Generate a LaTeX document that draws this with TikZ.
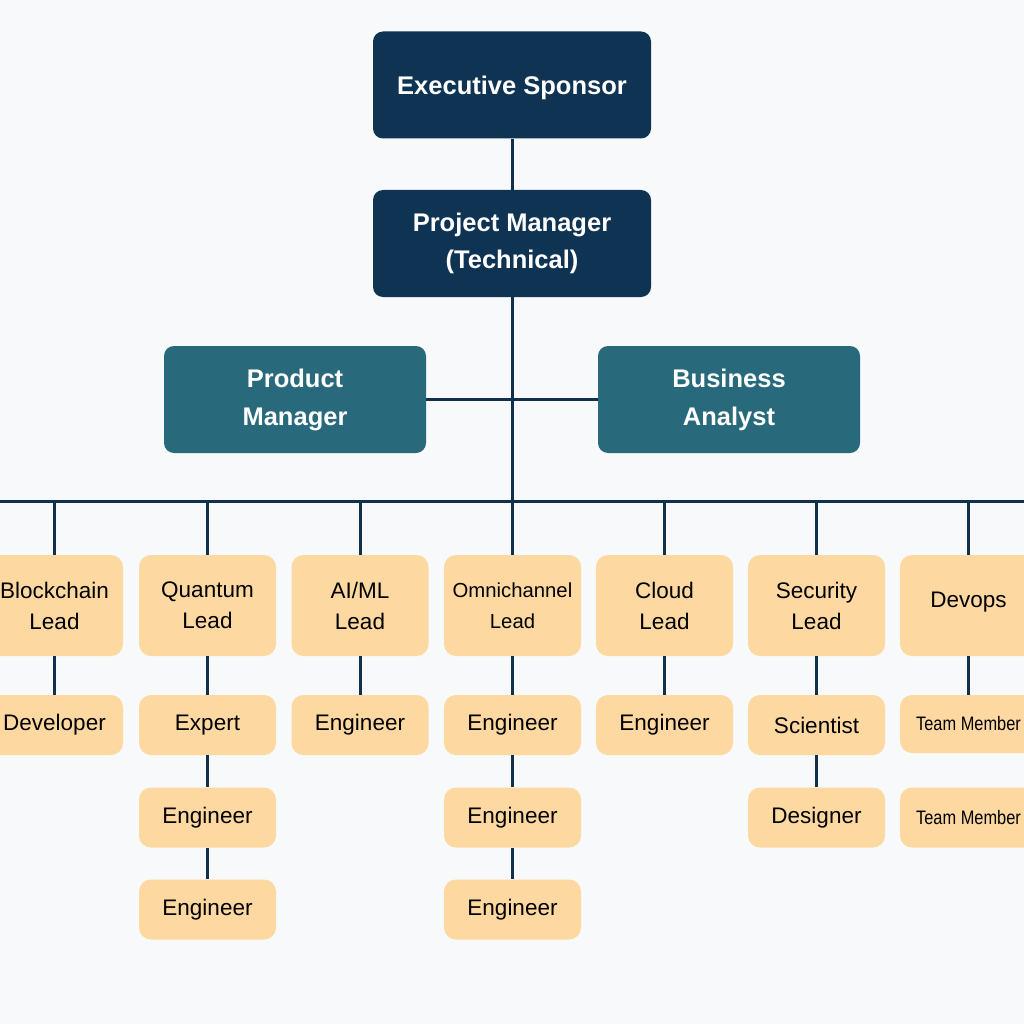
\documentclass[tikz,border=0pt]{standalone}
\usepackage{fontspec}
\setmainfont{Liberation Sans}
\newfontfamily\narrowfont[FakeStretch=0.84]{Liberation Sans}
\definecolor{bg}{HTML}{F8F9FA}
\definecolor{navy}{HTML}{0F3352}
\definecolor{teal}{HTML}{286A7B}
\definecolor{peach}{HTML}{FDD8A1}
\definecolor{linec}{HTML}{10304D}
\begin{document}
\begin{tikzpicture}[x=1pt,y=-1pt,
  topbox/.style={rectangle,rounded corners=10pt,fill=navy,draw=none,text=white,
    font=\fontsize{25.5}{37}\selectfont\bfseries,align=center,minimum width=278pt,minimum height=107pt,inner sep=0pt},
  midbox/.style={rectangle,rounded corners=10pt,fill=teal,draw=none,text=white,
    font=\fontsize{25.5}{38}\selectfont\bfseries,align=center,minimum width=262pt,minimum height=107pt,inner sep=0pt},
  leadbox/.style={rectangle,rounded corners=12pt,fill=peach,draw=none,text=black,
    font=\fontsize{22.5}{31}\selectfont,align=center,minimum width=137pt,minimum height=101pt,inner sep=0pt},
  kidbox/.style={rectangle,rounded corners=12pt,fill=peach,draw=none,text=black,
    font=\fontsize{22.5}{31}\selectfont,align=center,minimum width=137pt,minimum height=60pt,inner sep=0pt},
  conn/.style={draw=linec,line width=3pt}]
\useasboundingbox (0,0) rectangle (1024,1024);
\fill[bg] (0,0) rectangle (1024,1024);
\clip (0,0) rectangle (1024,1024);

\node[topbox] (exec) at (512,85) {\raisebox{-3pt}[\height][\depth]{Executive Sponsor}};
\node[topbox] (pm) at (512,243.5) {Project Manager\\(Technical)};
\node[midbox] (prod) at (295,399.5) {Product\\Manager};
\node[midbox] (ba) at (729,399.5) {Business\\Analyst};

\coordinate (junc) at (512,501);
\coordinate (barL) at (0,501);
\coordinate (barR) at (1024,501);

\node[leadbox] (bc) at (54.5,605.5) {Blockchain\\Lead};
\node[leadbox] (qu) at (207.5,605.5) {Quantum\\Lead};
\node[leadbox] (ai) at (360,605.5) {AI/ML\\Lead};
\node[leadbox,font=\fontsize{20.3}{31}\selectfont] (om) at (512.5,605.5) {Omnichannel\\Lead};
\node[leadbox] (cl) at (664.5,605.5) {Cloud\\Lead};
\node[leadbox] (se) at (816.5,605.5) {Security\\Lead};
\node[leadbox] (dv) at (968.5,605.5) {\raisebox{12pt}{Devops}};

\node[kidbox] (bc1) at (54.5,725) {Developer};
\node[kidbox] (qu1) at (207.5,725) {Expert};
\node[kidbox] (qu2) at (207.5,817.5) {Engineer};
\node[kidbox] (qu3) at (207.5,909.5) {Engineer};
\node[kidbox] (ai1) at (360,725) {Engineer};
\node[kidbox] (om1) at (512.5,725) {Engineer};
\node[kidbox] (om2) at (512.5,817.5) {Engineer};
\node[kidbox] (om3) at (512.5,909.5) {Engineer};
\node[kidbox] (cl1) at (664.5,725) {Engineer};
\node[kidbox] (se1) at (816.5,725) {Scientist};
\node[kidbox] (se2) at (816.5,817.5) {Designer};
\node[kidbox,font=\narrowfont\fontsize{19.5}{31}\selectfont,minimum height=58pt] (dv1) at (968.5,724) {Team Member};
\node[kidbox,font=\narrowfont\fontsize{19.5}{31}\selectfont] (dv2) at (968.5,817.5) {Team Member};

\draw[conn] (exec.south) -- (pm.north);
\draw[conn] (pm.south) -- (junc);
\draw[conn] (prod.east) -- (ba.west);
\draw[conn] (barL) -- (barR);
\foreach \n in {bc,qu,ai,om,cl,se,dv}{
  \draw[conn] (\n.north |- junc) -- (\n.north);
}
\draw[conn] (bc.south) -- (bc1.north);
\draw[conn] (qu.south) -- (qu1.north);
\draw[conn] (qu1.south) -- (qu2.north);
\draw[conn] (qu2.south) -- (qu3.north);
\draw[conn] (ai.south) -- (ai1.north);
\draw[conn] (om.south) -- (om1.north);
\draw[conn] (om1.south) -- (om2.north);
\draw[conn] (om2.south) -- (om3.north);
\draw[conn] (cl.south) -- (cl1.north);
\draw[conn] (se.south) -- (se1.north);
\draw[conn] (se1.south) -- (se2.north);
\draw[conn] (dv.south) -- (dv1.north);
\end{tikzpicture}
\end{document}
